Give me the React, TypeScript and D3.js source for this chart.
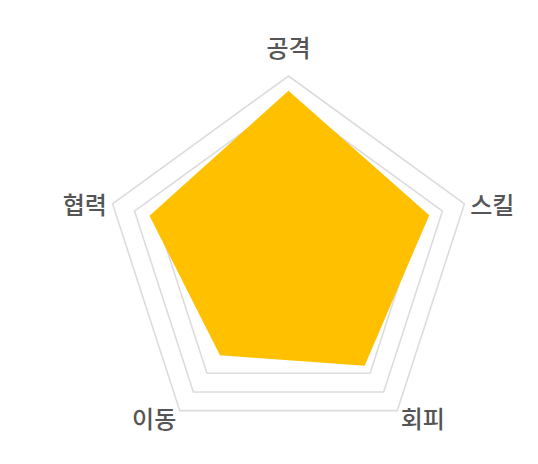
import React from "react";
import * as d3 from "d3";

const categories = ["공격", "스킬", "회피", "이동", "협력"];
const values = [92, 80, 70, 63, 79];
const ringLevels = [12.5, 25, 37.5, 50, 62.5, 75, 87.5, 100];

const W = 538;
const H = 464;
const cx = 288.5;
const cy = 261;
const R = 185;

export default function App() {
  const rScale = d3.scaleLinear().domain([0, 100]).range([0, R]);
  const angle = (i: number) => (i * 2 * Math.PI) / categories.length;
  const radial = d3
    .lineRadial<number>()
    .angle((_, i) => angle(i))
    .radius((d) => rScale(d))
    .curve(d3.curveLinearClosed);

  const ringPath = (lv: number) => radial(categories.map(() => lv)) || "";
  const dataPath = radial(values) || "";

  return (
    <svg
      width={W}
      height={H}
      style={{ position: "absolute", left: 0, top: 0, background: "#fff" }}
    >
      <g transform={`translate(${cx},${cy})`}>
        {ringLevels.map((lv) => (
          <path key={lv} d={ringPath(lv)} fill="none" stroke="#dcdcdc" strokeWidth={1.6} />
        ))}
        <path d={dataPath} fill="#FFC000" stroke="none" />
        {categories.map((c, i) => {
          const a = angle(i);
          const rr = rScale(100) + 6;
          const x = rr * Math.sin(a);
          let y = -rr * Math.cos(a);
          const s = Math.sin(a);
          let anchor = "middle";
          if (s > 0.1) anchor = "start";
          else if (s < -0.1) anchor = "end";
          if (i === 0) y = y - 24;
          else y = y + 2;
          return (
            <text
              key={c}
              x={x}
              y={y}
              textAnchor={anchor}
              dominantBaseline="central"
              fontFamily="'Noto Sans CJK KR', 'Noto Sans', sans-serif"
              fontSize={24}
              fontWeight={500}
              fill="#555"
            >
              {c}
            </text>
          );
        })}
      </g>
    </svg>
  );
}
